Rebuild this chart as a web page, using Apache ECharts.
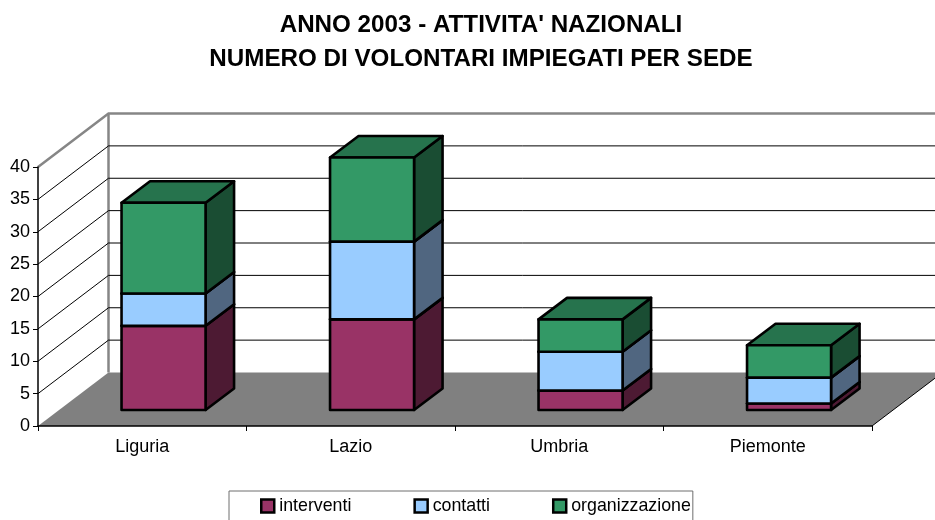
<!DOCTYPE html>
<html>
<head>
<meta charset="utf-8">
<title>Volontari per sede</title>
<script src="https://cdn.jsdelivr.net/npm/echarts@6/dist/echarts.min.js"></script>
<style>
  html, body { margin: 0; padding: 0; background: #fff; }
  #main { width: 935px; height: 520px; }
</style>
</head>
<body>
<div id="main"></div>
<script>
const categories = ['Liguria', 'Lazio', 'Umbria', 'Piemonte']
const interventi = [13, 14, 3, 1]
const contatti = [5, 12, 6, 4]
const organizzazione = [14, 13, 5, 5]
const yTicks = [0, 5, 10, 15, 20, 25, 30, 35, 40]

const FONT = '"Liberation Sans", Arial, sans-serif'
// 3D look: how far the back wall and the bars are shifted
const WALL_DX = 70.5
const WALL_DY = -53.5
const BAR_DX = 28.5
const BAR_DY = -21.5
const BAR_SHIFT_X = 21.3
const BAR_SHIFT_Y = -16

const chart = echarts.init(document.getElementById('main'))

// pareti e griglia
function renderWall (params, api) {
  const v = api.value(0)
  const p = api.coord([0, v])
  const left = params.coordSys.x
  const right = left + params.coordSys.width
  const backX = left + WALL_DX
  const backY = p[1] + WALL_DY
  const isTop = v === yTicks[yTicks.length - 1]
  if (v === 0) {
    return { type: 'group', children: [] }
  }
  return {
    type: 'polyline',
    shape: { points: [[left, p[1]], [backX, backY], [right + WALL_DX, backY]] },
    style: {
      fill: null,
      stroke: isTop ? '#868686' : '#000',
      lineWidth: isTop ? 2.5 : 1
    }
  }
}

// pavimento
function renderFloor (params, api) {
  const p = api.coord([0, 0])
  const top = api.coord([0, yTicks[yTicks.length - 1]])
  const left = params.coordSys.x
  const right = left + params.coordSys.width
  const y = p[1]
  return {
    type: 'group',
    children: [
      {
        type: 'polygon',
        shape: { points: [[left, y], [right, y], [right + WALL_DX, y + WALL_DY], [left + WALL_DX, y + WALL_DY]] },
        style: { fill: '#808080' }
      },
      {
        type: 'line',
        shape: { x1: right, y1: y, x2: right + WALL_DX, y2: y + WALL_DY },
        style: { stroke: '#000', lineWidth: 1 }
      },
      {
        type: 'line',
        shape: { x1: left + WALL_DX, y1: y + WALL_DY, x2: left + WALL_DX, y2: top[1] + WALL_DY },
        style: { stroke: '#868686', lineWidth: 2.5 }
      }
    ]
  }
}

// una colonna 3D: fronte, lato e tetto
function barRenderer (front, side, roof) {
  return function (params, api) {
    const idx = api.value(0)
    const start = api.coord([idx, api.value(1)])
    const end = api.coord([idx, api.value(2)])
    const w = api.size([1, 0])[0] * 0.403
    const x0 = start[0] + BAR_SHIFT_X - w / 2
    const x1 = x0 + w
    const y0 = start[1] + BAR_SHIFT_Y
    const y1 = end[1] + BAR_SHIFT_Y
    const edge = { stroke: '#000', lineWidth: 2.6, lineJoin: 'round' }
    return {
      type: 'group',
      children: [
        {
          type: 'polygon',
          shape: { points: [[x1, y0], [x1 + BAR_DX, y0 + BAR_DY], [x1 + BAR_DX, y1 + BAR_DY], [x1, y1]] },
          style: Object.assign({ fill: side }, edge)
        },
        {
          type: 'polygon',
          shape: { points: [[x0, y1], [x1, y1], [x1 + BAR_DX, y1 + BAR_DY], [x0 + BAR_DX, y1 + BAR_DY]] },
          style: Object.assign({ fill: roof }, edge)
        },
        {
          type: 'polygon',
          shape: { points: [[x0, y0], [x1, y0], [x1, y1], [x0, y1]] },
          style: Object.assign({ fill: front }, edge)
        }
      ]
    }
  }
}

// [indice, base, cima] per ogni sede
function stacked (values, below) {
  return values.map((v, i) => {
    const base = below.reduce((sum, arr) => sum + arr[i], 0)
    return [i, base, base + v]
  })
}

function barSeries (name, values, below, front, side, roof, z) {
  return {
    name,
    type: 'custom',
    z,
    silent: true,
    itemStyle: { color: front },
    encode: { x: 0, y: 2 },
    data: stacked(values, below),
    renderItem: barRenderer(front, side, roof)
  }
}

chart.setOption({
  animation: false,
  backgroundColor: '#fff',
  textStyle: { fontFamily: FONT, color: '#000' },
  title: {
    text: "ANNO 2003 - ATTIVITA' NAZIONALI\nNUMERO DI VOLONTARI IMPIEGATI PER SEDE",
    left: 476,
    top: 3,
    textAlign: 'center',
    textStyle: { fontFamily: FONT, fontSize: 24.2, fontWeight: 'bold', color: '#000', lineHeight: 34 }
  },
  legend: {
    left: 229,
    top: 491,
    padding: [6, 2, 20, 31],
    itemGap: 62,
    itemWidth: 13,
    itemHeight: 13,
    icon: 'rect',
    borderColor: '#6e6e6e',
    borderWidth: 1,
    backgroundColor: '#fff',
    selectedMode: false,
    itemStyle: { borderColor: '#000', borderWidth: 2.5 },
    textStyle: { fontFamily: FONT, fontSize: 17.8, color: '#000' },
    data: ['interventi', 'contatti', 'organizzazione']
  },
  grid: { left: 38, right: 63, top: 167, bottom: 94 },
  xAxis: {
    type: 'category',
    data: categories,
    z: 3,
    axisLine: { lineStyle: { color: '#000', width: 1.5 } },
    axisTick: { show: true, alignWithLabel: false, length: 5, lineStyle: { color: '#000' } },
    axisLabel: { margin: 12, fontFamily: FONT, fontSize: 18, color: '#000' }
  },
  yAxis: {
    type: 'value',
    min: 0,
    max: 40,
    interval: 5,
    z: 3,
    axisLine: { show: true, lineStyle: { color: '#000', width: 1.5 } },
    axisTick: { show: true, length: 5, lineStyle: { color: '#000' } },
    axisLabel: { margin: 8, fontFamily: FONT, fontSize: 18, color: '#000' },
    splitLine: { show: false }
  },
  series: [
    { type: 'custom', z: 1, silent: true, data: [[0]], renderItem: renderFloor },
    { type: 'custom', z: 1, silent: true, encode: { y: 0 }, data: yTicks.map(v => [v]), renderItem: renderWall },
    barSeries('interventi', interventi, [], '#993366', '#4d1a33', '#732650', 4),
    barSeries('contatti', contatti, [interventi], '#99ccff', '#506680', '#7399bf', 5),
    barSeries('organizzazione', organizzazione, [interventi, contatti], '#339966', '#1a4d33', '#26734d', 6)
  ]
})
</script>
</body>
</html>
